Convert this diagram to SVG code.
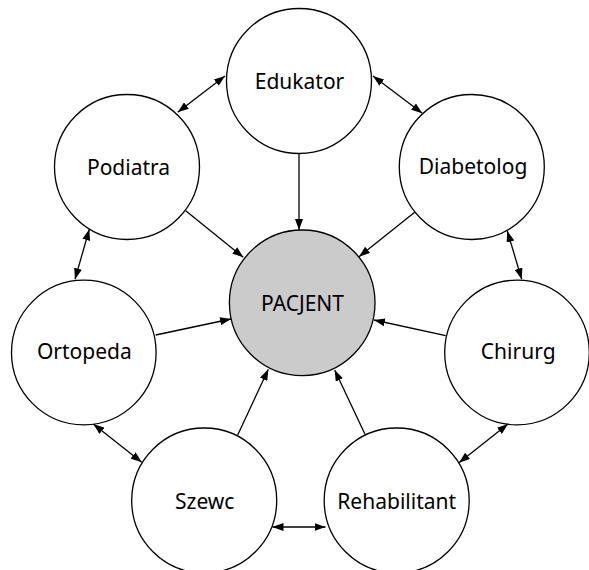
<svg xmlns="http://www.w3.org/2000/svg" width="589" height="570" viewBox="0 0 589 570">
<style>
.n circle{fill:#fff;stroke:#000;stroke-width:1.3}
#pacjent circle{fill:#cbcbcb}
.n text{font-family:"Noto Sans","Open Sans","DejaVu Sans",sans-serif;font-size:21px;fill:#000;text-anchor:middle}
#edges line{stroke:#000;stroke-width:1.3;fill:none}
</style>
<defs>
<marker id="ah" markerUnits="userSpaceOnUse" markerWidth="11" markerHeight="8" refX="11" refY="4" orient="auto-start-reverse" viewBox="0 0 11 8">
<path d="M0,0 L11,4 L0,8 z" fill="#000"/>
</marker>
</defs>
<rect width="589" height="570" fill="#fff"/>
<g id="edges">
<line x1="225" y1="76" x2="177.7" y2="112.3" marker-start="url(#ah)" marker-end="url(#ah)"/>
<line x1="373" y1="76" x2="422.3" y2="113.3" marker-start="url(#ah)" marker-end="url(#ah)"/>
<line x1="299" y1="153.5" x2="299" y2="230" marker-end="url(#ah)"/>
<line x1="185.7" y1="210.7" x2="243.3" y2="257.3" marker-end="url(#ah)"/>
<line x1="414.7" y1="212.3" x2="359" y2="256.7" marker-end="url(#ah)"/>
<line x1="507.3" y1="231" x2="521.7" y2="279.3" marker-start="url(#ah)" marker-end="url(#ah)"/>
<line x1="89.3" y1="229.3" x2="75" y2="279.3" marker-start="url(#ah)" marker-end="url(#ah)"/>
<line x1="155.7" y1="335" x2="231" y2="319" marker-end="url(#ah)"/>
<line x1="445.7" y1="335.7" x2="374" y2="320" marker-end="url(#ah)"/>
<line x1="93.3" y1="424" x2="141.7" y2="462.3" marker-start="url(#ah)" marker-end="url(#ah)"/>
<line x1="508" y1="424" x2="459" y2="462.7" marker-start="url(#ah)" marker-end="url(#ah)"/>
<line x1="237.7" y1="435" x2="268.3" y2="369.3" marker-end="url(#ah)"/>
<line x1="365" y1="434.3" x2="334.7" y2="370" marker-end="url(#ah)"/>
<line x1="272.5" y1="527" x2="325.5" y2="527" marker-start="url(#ah)" marker-end="url(#ah)"/>
</g>
<g id="edukator" class="n"><circle cx="299" cy="81" r="72.5"/><text x="299.5" y="89">Edukator</text></g>
<g id="podiatra" class="n"><circle cx="127" cy="167" r="72.5"/><text x="128.5" y="175">Podiatra</text></g>
<g id="diabetolog" class="n"><circle cx="471.8" cy="167" r="72.5"/><text x="473" y="174">Diabetolog</text></g>
<g id="pacjent" class="n"><circle cx="302.2" cy="302.8" r="72.8"/><text x="302.5" y="310.5">PACJENT</text></g>
<g id="ortopeda" class="n"><circle cx="83.8" cy="352.5" r="72.3"/><text x="84.3" y="359">Ortopeda</text></g>
<g id="chirurg" class="n"><circle cx="517" cy="352.5" r="72.3"/><text x="518.2" y="359">Chirurg</text></g>
<g id="szewc" class="n"><circle cx="204.2" cy="500.5" r="72.5"/><text x="204.7" y="509">Szewc</text></g>
<g id="rehabilitant" class="n"><circle cx="396.7" cy="500.5" r="72.5"/><text x="396.7" y="509">Rehabilitant</text></g>
</svg>
